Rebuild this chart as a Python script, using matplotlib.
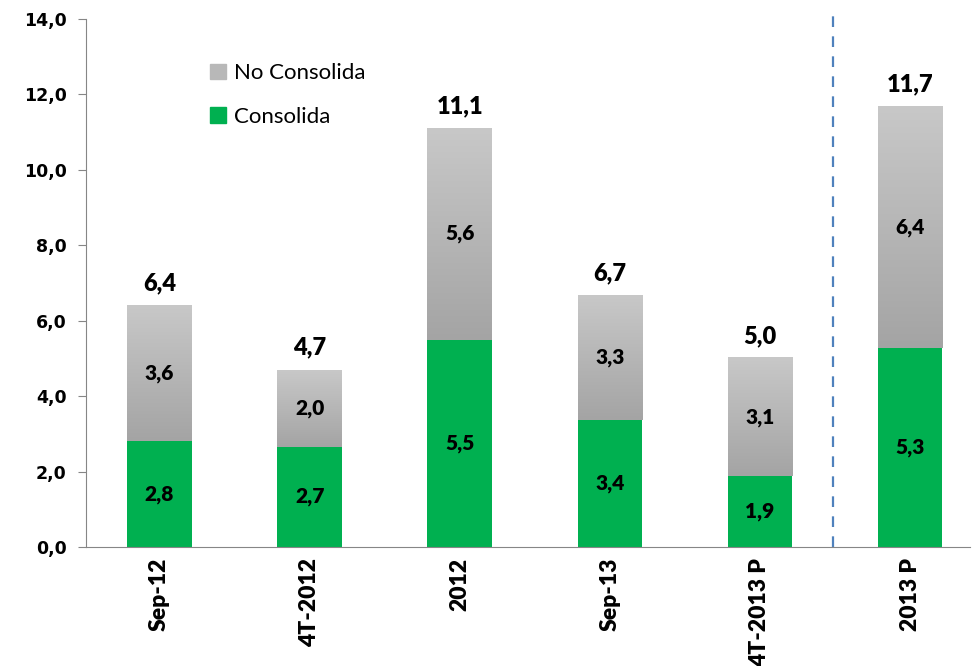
import matplotlib.pyplot as plt
import numpy as np
from matplotlib.colors import LinearSegmentedColormap
from matplotlib.patches import Patch

categories = ["Sep-12", "4T-2012", "2012", "Sep-13", "4T-2013 P", "2013 P"]
consolida = [2.8, 2.66, 5.5, 3.37, 1.87, 5.27]
no_consolida = [3.6, 2.04, 5.6, 3.3, 3.13, 6.4]
yticks = [0, 2, 4, 6, 8, 10, 12, 14]

green = "#00b050"
gray_cmap = LinearSegmentedColormap.from_list("g", ["#a4a4a4", "#c8c8c8"])


def fmt(v):
    return f"{v:.1f}".replace(".", ",")


fig = plt.figure(figsize=(9.73, 6.66), dpi=100)
ax = fig.add_axes([0.0884, 0.1787, 0.9086, 0.7928])

x = np.arange(len(categories))
width = 0.43
ax.bar(x, consolida, width, color=green, zorder=2)
top = ax.bar(x, no_consolida, width, bottom=consolida, color="none", zorder=2)

# gradient fill for the "No Consolida" segments
grad = np.linspace(0, 1, 256).reshape(-1, 1)
for rect in top:
    x0, y0 = rect.get_x(), rect.get_y()
    ax.imshow(grad, cmap=gray_cmap, origin="lower", aspect="auto", zorder=2,
              extent=(x0, x0 + rect.get_width(), y0, y0 + rect.get_height()))
ax.set_xlim(-0.49, 5.4)
ax.set_ylim(0, 14)

lab = dict(family="Lato", fontweight="heavy", ha="center", va="center", zorder=3)
for xi, c, n in zip(x, consolida, no_consolida):
    ax.text(xi, c / 2, fmt(c), fontsize=15, **lab)
    ax.text(xi, c + n / 2, fmt(n), fontsize=15, **lab)
    ax.annotate(fmt(c + n), (xi, c + n), xytext=(0, 16), textcoords="offset points",
                fontsize=17, family="Lato", fontweight="heavy", ha="center", va="center")

ax.axvline(4.49, ymin=0, ymax=1.008, color="#4f81bd", lw=1.6,
           dashes=(4.8, 4.2), clip_on=False, zorder=1)

for s in ["top", "right"]:
    ax.spines[s].set_visible(False)
for s in ["left", "bottom"]:
    ax.spines[s].set_color("#868686")

ax.set_yticks(yticks)
ax.set_yticklabels([fmt(v) for v in yticks], fontsize=12.5, fontweight="bold",
                   family="DejaVu Sans")
ax.tick_params(axis="y", direction="out", length=6, color="#868686", pad=8)
ax.set_xticks(x)
ax.set_xticklabels(categories, rotation=90, fontsize=16.5, fontweight="heavy", family="Lato")
ax.tick_params(axis="x", length=0, pad=8)

handles = [Patch(color="#b8b8b8", label="No Consolida"),
           Patch(color=green, label="Consolida")]
ax.legend(handles=handles, loc="upper left", bbox_to_anchor=(0.128, 0.937),
          frameon=False, prop=dict(family="Lato", size=16), handlelength=0.7,
          handleheight=0.7, handletextpad=0.35, labelspacing=1.05, borderpad=0)

fig.savefig("out.png", dpi=100)
